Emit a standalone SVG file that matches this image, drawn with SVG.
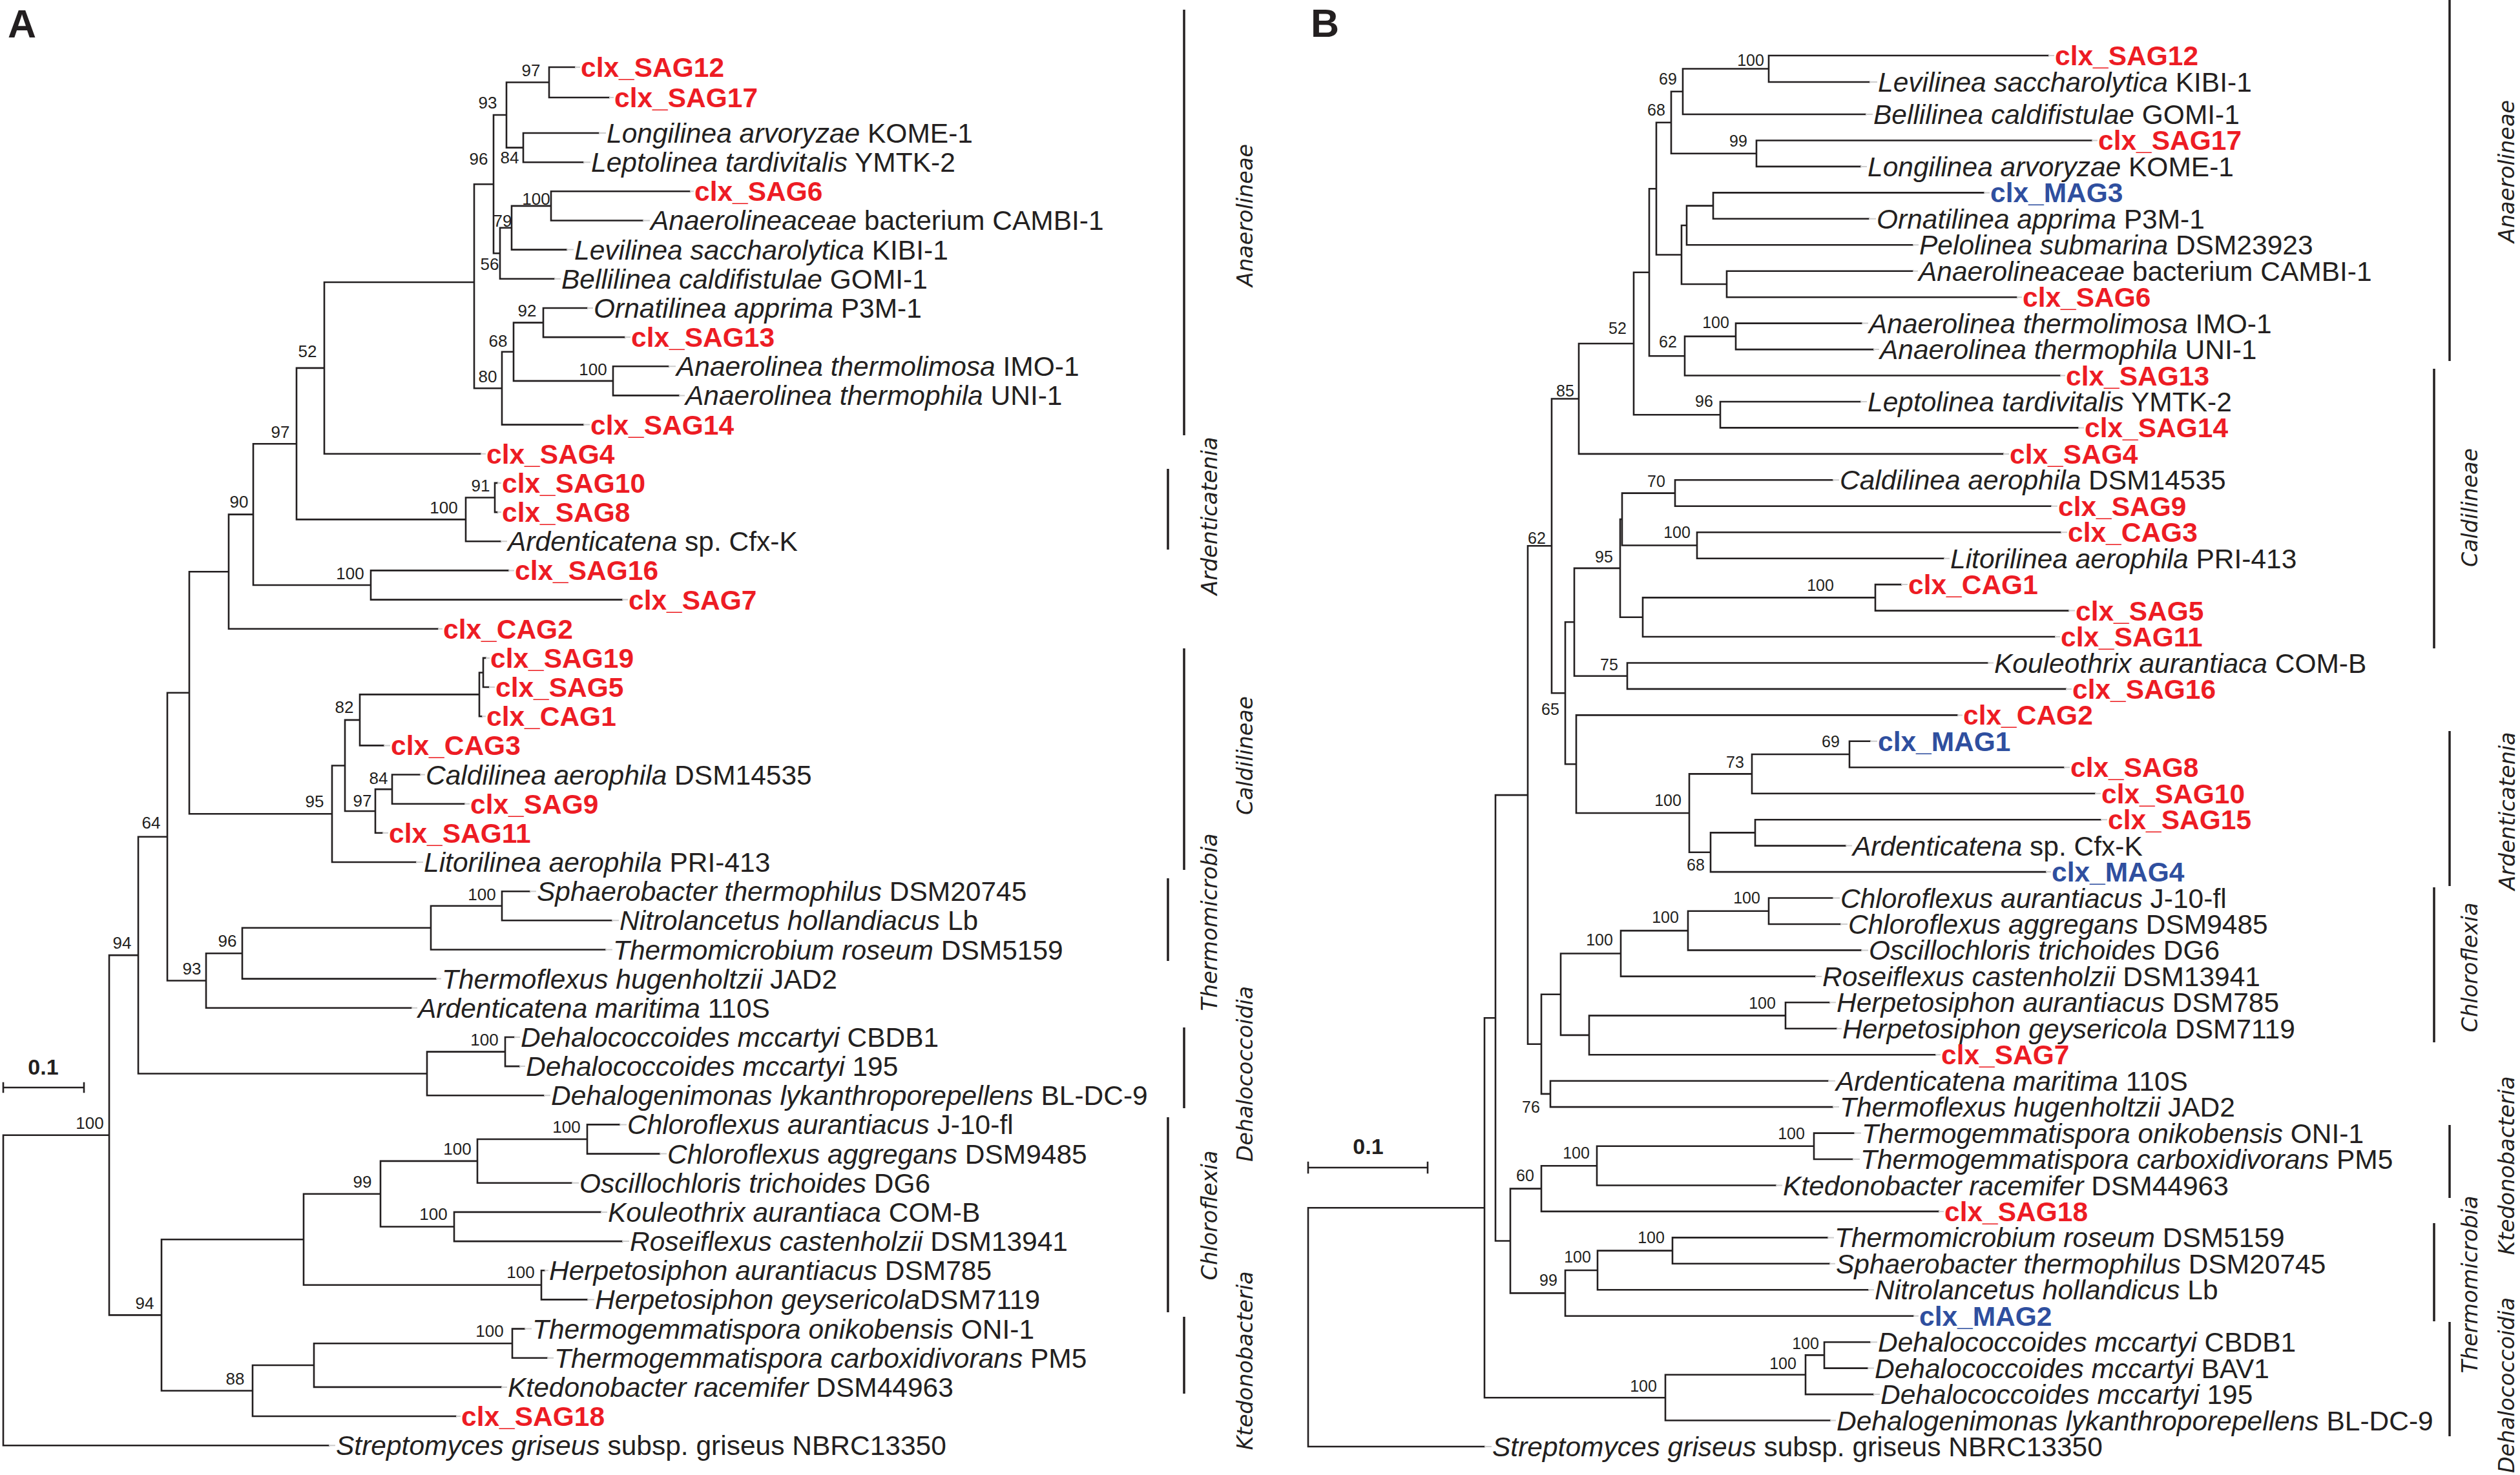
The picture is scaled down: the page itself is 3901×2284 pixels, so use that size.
<svg xmlns="http://www.w3.org/2000/svg" width="3901" height="2284" viewBox="0 0 3901 2284">
<style>
.br{fill:none;stroke:#231f20;stroke-width:2.6;stroke-linecap:square;stroke-linejoin:miter}
.ld{fill:none;stroke:#cccccc;stroke-width:2}
.bar{stroke:#231f20;stroke-width:3.5}
.t{font-family:"Liberation Sans",Arial,Helvetica,sans-serif;font-size:42.5px;fill:#231f20}
.i{font-style:italic}
.r{fill:#ed1c24;font-weight:bold}
.u{fill:#2f4f9f;font-weight:bold}
.bs{font-family:"Liberation Sans",Arial,sans-serif;font-size:26px;fill:#231f20;text-anchor:middle}
.bsb{font-family:"Liberation Sans",Arial,sans-serif;font-size:25px;fill:#231f20;text-anchor:middle}
.cl{font-family:"DejaVu Sans",Verdana,sans-serif;font-style:italic;font-size:34px;fill:#231f20;text-anchor:middle}
.pl{font-family:"Liberation Sans",Arial,sans-serif;font-weight:bold;font-size:61px;fill:#231f20}
.sc{font-family:"Liberation Sans",Arial,sans-serif;font-weight:bold;font-size:34px;fill:#231f20;text-anchor:middle}
</style>
<rect width="3901" height="2284" fill="#ffffff"/>
<text class="pl" x="12" y="58">A</text>
<text class="pl" x="2029" y="57">B</text>

<g id="connectors">
<path class="br" d="M890 104H850V151H943 M927 206H810V251.2H903 M850 127.5H784V228.6H810 M1068 296.3H853V341.5H995 M853 318.9H792V386.6H877 M792 352.8H774V431.8H858 M784 178H764V392.3H774 M909 477H841V522.1H967 M1035 567.3H949V612.4H1051 M841 499.6H795V589.9H949 M795 544.7H777V657.6H903 M764 285.2H734V601.2H777 M734 437H502V702.8H744 M770 747.9H766V793.1H770 M766 770.5H721V838.2H775 M502 569.9H459V804.4H721 M787 883.4H574V928.6H963 M459 687.2H392V906H574 M392 796.6H354V973.7H678 M752 1018.9H748V1064H757 M748 1041.5H742V1109.2H746 M742 1075.4H557V1154.4H594 M650 1199.5H607V1244.7H719 M607 1222.1H581V1289.8H592 M557 1114.9H534V1256H581 M534 1185.5H514V1335H644 M354 885.2H293V1260.3H514 M820 1380.2H777V1425.3H947 M777 1402.8H667V1470.5H937 M667 1436.7H375V1515.6H675 M375 1476.2H319V1560.8H637 M293 1072.8H259V1518.5H319 M796 1606H782V1651.1H804 M782 1628.6H661V1696.3H842 M259 1295.7H214V1662.5H661 M959 1741.4H909V1786.6H1021 M909 1764H739V1831.8H885 M930 1876.9H703V1922.1H963 M739 1797.9H589V1899.5H703 M843 1967.2H838V2012.4H909 M589 1848.7H470V1989.8H838 M812 2057.6H793V2102.7H847 M793 2080.2H486V2147.9H776 M486 2114H391V2193H706 M470 1919.3H250V2153.5H391 M214 1479.1H169V2036.4H250 M169 1757.8H5V2238.2H509"/>
<path class="ld" d="M890 104H898M943 151H950M927 206H938M903 251.2H914M1068 296.3H1074M995 341.5H1006M877 386.6H888M858 431.8H868M909 477H918M967 522.1H976M1035 567.3H1046M1051 612.4H1060M903 657.6H913M744 702.8H752M770 747.9H776M770 793.1H776M775 838.2H785M787 883.4H796M963 928.6H972M678 973.7H685M752 1018.9H758M757 1064H766M746 1109.2H752M594 1154.4H604M650 1199.5H658M719 1244.7H727M592 1289.8H601M644 1335H655M820 1380.2H830M947 1425.3H958M937 1470.5H948M675 1515.6H683M637 1560.8H646M796 1606H805M804 1651.1H813M842 1696.3H852M959 1741.4H970M1021 1786.6H1032M885 1831.8H896M930 1876.9H940M963 1922.1H974M843 1967.2H849M909 2012.4H920M812 2057.6H823M847 2102.7H857M776 2147.9H785M706 2193H713M509 2238.2H519"/>
<path class="br" d="M3171 86H2738V127H2894 M2738 106.5H2605V177H2888 M3238 217.5H2719V257.9H2880 M2605 141.8H2587V237.7H2719 M3071 298.4H2652V338.8H2893 M2652 318.6H2611V379.3H2961 M2961 419.7H2673V460.2H3122 M2611 349H2603V440H2673 M2587 189.8H2564V394.5H2603 M2882 500.6H2687V541.1H2900 M2687 520.9H2608V581.5H3189 M2564 292.2H2553V551.2H2608 M2880 622H2663V662.4H3217 M2553 421.7H2529V642.2H2663 M2529 532H2444V702.9H3101 M2837 743.3H2593V783.8H3175 M3190 824.2H2627V864.7H3009 M2593 763.6H2511V844.5H2627 M2943 905.1H2903V945.6H3202 M2903 925.4H2543V986H3181 M2511 804H2508V955.7H2543 M3077 1026.5H2519V1066.9H3198 M2508 879.9H2437V1046.7H2519 M2895 1147.8H2863V1188.3H3195 M2863 1168H2712V1228.7H3243 M3252 1269.2H2717V1309.6H2857 M2717 1289.4H2648V1350.1H3167 M2712 1198.4H2615V1319.7H2648 M3030 1107.4H2440V1259H2615 M2437 963.3H2423V1183.2H2440 M2444 617.5H2402V1073.2H2423 M2837 1390.5H2738V1431H2849 M2738 1410.8H2613V1471.4H2881 M2613 1441.1H2509V1511.9H2810 M2832 1552.3H2764V1592.8H2843 M2764 1572.6H2460V1633.2H2996 M2509 1476.5H2416V1602.9H2460 M2830 1673.7H2400V1714.1H2837 M2416 1539.7H2386V1693.9H2400 M2402 845.3H2365V1616.8H2386 M2870 1754.6H2808V1795H2868 M2808 1774.8H2472V1835.5H2749 M2472 1805.2H2386V1875.9H3001 M2829 1916.4H2589V1956.8H2832 M2589 1936.6H2473V1997.3H2892 M2473 1967H2423V2037.7H2962 M2386 1840.6H2338V2002.4H2423 M2365 1231.1H2315V1921.5H2338 M2895 2078.2H2824V2118.6H2891 M2824 2098.4H2795V2159.1H2900 M2795 2128.8H2578V2199.5H2833 M2315 1576.3H2298V2164.2H2578 M2298 1870.3H2025V2240H2298"/>
<path class="ld" d="M3171 86H3180M2894 127H2906M2888 177H2899M3238 217.5H3247M2880 257.9H2890M3071 298.4H3080M2893 338.8H2904M2961 379.3H2970M2961 419.7H2969M3122 460.2H3130M2882 500.6H2892M2900 541.1H2909M3189 581.5H3197M2880 622H2890M3217 662.4H3226M3101 702.9H3110M2837 743.3H2847M3175 783.8H3185M3190 824.2H3200M3009 864.7H3018M2943 905.1H2953M3202 945.6H3212M3181 986H3189M3077 1026.5H3086M3198 1066.9H3207M3030 1107.4H3038M2895 1147.8H2906M3195 1188.3H3204M3243 1228.7H3252M3252 1269.2H3262M2857 1309.6H2867M3167 1350.1H3175M2837 1390.5H2848M2849 1431H2860M2881 1471.4H2892M2810 1511.9H2820M2832 1552.3H2842M2843 1592.8H2851M2996 1633.2H3004M2830 1673.7H2841M2837 1714.1H2847M2870 1754.6H2881M2868 1795H2879M2749 1835.5H2759M3001 1875.9H3009M2829 1916.4H2839M2832 1956.8H2841M2892 1997.3H2901M2962 2037.7H2970M2895 2078.2H2906M2891 2118.6H2901M2900 2159.1H2910M2833 2199.5H2842M2298 2240H2309"/>
</g>

<g id="scale-bars">
<path class="br" d="M5 1684H130M5 1677V1691M130 1677V1691"/>
<text class="sc" x="67" y="1664">0.1</text>
<path class="br" d="M2025 1808H2210M2025 1800V1816M2210 1800V1816"/>
<text class="sc" x="2118" y="1787">0.1</text>
</g>

<g id="clade-bars">
<line class="bar" x1="1833" y1="15" x2="1833" y2="674"/>
<line class="bar" x1="1808" y1="726" x2="1808" y2="851"/>
<line class="bar" x1="1833" y1="1004" x2="1833" y2="1347"/>
<line class="bar" x1="1808" y1="1360" x2="1808" y2="1488"/>
<line class="bar" x1="1833" y1="1591" x2="1833" y2="1716"/>
<line class="bar" x1="1808" y1="1730" x2="1808" y2="2032"/>
<line class="bar" x1="1833" y1="2039" x2="1833" y2="2158"/>
<line class="bar" x1="3792" y1="0" x2="3792" y2="559"/>
<line class="bar" x1="3768" y1="571" x2="3768" y2="1004"/>
<line class="bar" x1="3792" y1="1132" x2="3792" y2="1372"/>
<line class="bar" x1="3768" y1="1374" x2="3768" y2="1614"/>
<line class="bar" x1="3792" y1="1742" x2="3792" y2="1855"/>
<line class="bar" x1="3768" y1="1894" x2="3768" y2="2046"/>
<line class="bar" x1="3792" y1="2047" x2="3792" y2="2224"/>
</g>
<g id="clade-labels">
<text class="cl" transform="translate(1939,333.5) rotate(-90)" textLength="221" lengthAdjust="spacingAndGlyphs">Anaerolineae</text>
<text class="cl" transform="translate(1884,799) rotate(-90)" textLength="245" lengthAdjust="spacingAndGlyphs">Ardenticatenia</text>
<text class="cl" transform="translate(1939,1170) rotate(-90)" textLength="184" lengthAdjust="spacingAndGlyphs">Caldilineae</text>
<text class="cl" transform="translate(1884,1428) rotate(-90)" textLength="275" lengthAdjust="spacingAndGlyphs">Thermomicrobia</text>
<text class="cl" transform="translate(1939,1663) rotate(-90)" textLength="272" lengthAdjust="spacingAndGlyphs">Dehalococcoidia</text>
<text class="cl" transform="translate(1884,1882) rotate(-90)" textLength="201" lengthAdjust="spacingAndGlyphs">Chloroflexia</text>
<text class="cl" transform="translate(1939,2107) rotate(-90)" textLength="277" lengthAdjust="spacingAndGlyphs">Ktedonobacteria</text>
<text class="cl" transform="translate(3892,265.5) rotate(-90)" textLength="221" lengthAdjust="spacingAndGlyphs">Anaerolineae</text>
<text class="cl" transform="translate(3835,786) rotate(-90)" textLength="184" lengthAdjust="spacingAndGlyphs">Caldilineae</text>
<text class="cl" transform="translate(3893,1256) rotate(-90)" textLength="245" lengthAdjust="spacingAndGlyphs">Ardenticatenia</text>
<text class="cl" transform="translate(3835,1498) rotate(-90)" textLength="201" lengthAdjust="spacingAndGlyphs">Chloroflexia</text>
<text class="cl" transform="translate(3892,1805) rotate(-90)" textLength="277" lengthAdjust="spacingAndGlyphs">Ktedonobacteria</text>
<text class="cl" transform="translate(3835,1989) rotate(-90)" textLength="275" lengthAdjust="spacingAndGlyphs">Thermomicrobia</text>
<text class="cl" transform="translate(3892,2145) rotate(-90)" textLength="272" lengthAdjust="spacingAndGlyphs">Dehalococcoidia</text>
</g>

<g id="bootstrap-A">
<text class="bs" x="822" y="118">97</text>
<text class="bs" x="755" y="168">93</text>
<text class="bs" x="741" y="255">96</text>
<text class="bs" x="789" y="253">84</text>
<text class="bs" x="830" y="317">100</text>
<text class="bs" x="778" y="351">79</text>
<text class="bs" x="758" y="418">56</text>
<text class="bs" x="816" y="490">92</text>
<text class="bs" x="771" y="537">68</text>
<text class="bs" x="755" y="592">80</text>
<text class="bs" x="918" y="581">100</text>
<text class="bs" x="476" y="553">52</text>
<text class="bs" x="434" y="678">97</text>
<text class="bs" x="744" y="761">91</text>
<text class="bs" x="370" y="786">90</text>
<text class="bs" x="687" y="795">100</text>
<text class="bs" x="542" y="897">100</text>
<text class="bs" x="533" y="1104">82</text>
<text class="bs" x="586" y="1214">84</text>
<text class="bs" x="561" y="1249">97</text>
<text class="bs" x="487" y="1250">95</text>
<text class="bs" x="234" y="1283">64</text>
<text class="bs" x="746" y="1394">100</text>
<text class="bs" x="352" y="1466">96</text>
<text class="bs" x="189" y="1469">94</text>
<text class="bs" x="297" y="1509">93</text>
<text class="bs" x="750" y="1619">100</text>
<text class="bs" x="139" y="1748">100</text>
<text class="bs" x="877" y="1754">100</text>
<text class="bs" x="708" y="1788">100</text>
<text class="bs" x="561" y="1839">99</text>
<text class="bs" x="671" y="1889">100</text>
<text class="bs" x="806" y="1979">100</text>
<text class="bs" x="224" y="2027">94</text>
<text class="bs" x="758" y="2070">100</text>
<text class="bs" x="364" y="2144">88</text>
</g>

<g id="bootstrap-B">
<text class="bsb" x="2710" y="102">100</text>
<text class="bsb" x="2582" y="131">69</text>
<text class="bsb" x="2564" y="179">68</text>
<text class="bsb" x="2691" y="227">99</text>
<text class="bsb" x="2656" y="508">100</text>
<text class="bsb" x="2582" y="538">62</text>
<text class="bsb" x="2504" y="517">52</text>
<text class="bsb" x="2423" y="614">85</text>
<text class="bsb" x="2638" y="630">96</text>
<text class="bsb" x="2564" y="754">70</text>
<text class="bsb" x="2596" y="833">100</text>
<text class="bsb" x="2379" y="842">62</text>
<text class="bsb" x="2483" y="871">95</text>
<text class="bsb" x="2818" y="915">100</text>
<text class="bsb" x="2491" y="1038">75</text>
<text class="bsb" x="2400" y="1107">65</text>
<text class="bsb" x="2834" y="1157">69</text>
<text class="bsb" x="2686" y="1189">73</text>
<text class="bsb" x="2582" y="1248">100</text>
<text class="bsb" x="2625" y="1348">68</text>
<text class="bsb" x="2704" y="1399">100</text>
<text class="bsb" x="2578" y="1429">100</text>
<text class="bsb" x="2476" y="1464">100</text>
<text class="bsb" x="2728" y="1562">100</text>
<text class="bsb" x="2370" y="1723">76</text>
<text class="bsb" x="2773" y="1764">100</text>
<text class="bsb" x="2440" y="1794">100</text>
<text class="bsb" x="2361" y="1829">60</text>
<text class="bsb" x="2556" y="1925">100</text>
<text class="bsb" x="2442" y="1955">100</text>
<text class="bsb" x="2397" y="1991">99</text>
<text class="bsb" x="2795" y="2089">100</text>
<text class="bsb" x="2760" y="2120">100</text>
<text class="bsb" x="2544" y="2155">100</text>
</g>

<g id="A-leaves">
<g id="A01"><text class="t r" x="899" y="119">clx_SAG12</text></g>
<g id="A02"><text class="t r" x="951" y="166">clx_SAG17</text></g>
<g id="A03"><text class="t" x="939" y="221"><tspan class="i">Longilinea arvoryzae</tspan> KOME-1</text></g>
<g id="A04"><text class="t" x="915" y="266"><tspan class="i">Leptolinea tardivitalis</tspan> YMTK-2</text></g>
<g id="A05"><text class="t r" x="1075" y="311">clx_SAG6</text></g>
<g id="A06"><text class="t" x="1007" y="356"><tspan class="i">Anaerolineaceae</tspan> bacterium CAMBI-1</text></g>
<g id="A07"><text class="t" x="889" y="402"><tspan class="i">Levilinea saccharolytica</tspan> KIBI-1</text></g>
<g id="A08"><text class="t" x="869" y="447"><tspan class="i">Bellilinea caldifistulae</tspan> GOMI-1</text></g>
<g id="A09"><text class="t" x="919" y="492"><tspan class="i">Ornatilinea apprima</tspan> P3M-1</text></g>
<g id="A10"><text class="t r" x="977" y="537">clx_SAG13</text></g>
<g id="A11"><text class="t" x="1047" y="582"><tspan class="i">Anaerolinea thermolimosa</tspan> IMO-1</text></g>
<g id="A12"><text class="t" x="1061" y="627"><tspan class="i">Anaerolinea thermophila</tspan> UNI-1</text></g>
<g id="A13"><text class="t r" x="914" y="673">clx_SAG14</text></g>
<g id="A14"><text class="t r" x="753" y="718">clx_SAG4</text></g>
<g id="A15"><text class="t r" x="777" y="763">clx_SAG10</text></g>
<g id="A16"><text class="t r" x="777" y="808">clx_SAG8</text></g>
<g id="A17"><text class="t" x="786" y="853"><tspan class="i">Ardenticatena</tspan> sp. Cfx-K</text></g>
<g id="A18"><text class="t r" x="797" y="898">clx_SAG16</text></g>
<g id="A19"><text class="t r" x="973" y="944">clx_SAG7</text></g>
<g id="A20"><text class="t r" x="686" y="989">clx_CAG2</text></g>
<g id="A21"><text class="t r" x="759" y="1034">clx_SAG19</text></g>
<g id="A22"><text class="t r" x="767" y="1079">clx_SAG5</text></g>
<g id="A23"><text class="t r" x="753" y="1124">clx_CAG1</text></g>
<g id="A24"><text class="t r" x="605" y="1169">clx_CAG3</text></g>
<g id="A25"><text class="t" x="659" y="1215"><tspan class="i">Caldilinea aerophila</tspan> DSM14535</text></g>
<g id="A26"><text class="t r" x="728" y="1260">clx_SAG9</text></g>
<g id="A27"><text class="t r" x="602" y="1305">clx_SAG11</text></g>
<g id="A28"><text class="t" x="656" y="1350"><tspan class="i">Litorilinea aerophila</tspan> PRI-413</text></g>
<g id="A29"><text class="t" x="831" y="1395"><tspan class="i">Sphaerobacter thermophilus</tspan> DSM20745</text></g>
<g id="A30"><text class="t" x="959" y="1440"><tspan class="i">Nitrolancetus hollandiacus</tspan> Lb</text></g>
<g id="A31"><text class="t" x="949" y="1486"><tspan class="i">Thermomicrobium roseum</tspan> DSM5159</text></g>
<g id="A32"><text class="t" x="684" y="1531"><tspan class="i">Thermoflexus hugenholtzii</tspan> JAD2</text></g>
<g id="A33"><text class="t" x="647" y="1576"><tspan class="i">Ardenticatena maritima</tspan> 110S</text></g>
<g id="A34"><text class="t" x="806" y="1621"><tspan class="i">Dehalococcoides mccartyi</tspan> CBDB1</text></g>
<g id="A35"><text class="t" x="814" y="1666"><tspan class="i">Dehalococcoides mccartyi</tspan> 195</text></g>
<g id="A36"><text class="t" x="853" y="1711"><tspan class="i">Dehalogenimonas lykanthroporepellens</tspan> BL-DC-9</text></g>
<g id="A37"><text class="t" x="971" y="1756"><tspan class="i">Chloroflexus aurantiacus</tspan> J-10-fl</text></g>
<g id="A38"><text class="t" x="1033" y="1802"><tspan class="i">Chloroflexus aggregans</tspan> DSM9485</text></g>
<g id="A39"><text class="t" x="897" y="1847"><tspan class="i">Oscillochloris trichoides</tspan> DG6</text></g>
<g id="A40"><text class="t" x="941" y="1892"><tspan class="i">Kouleothrix aurantiaca</tspan> COM-B</text></g>
<g id="A41"><text class="t" x="975" y="1937"><tspan class="i">Roseiflexus castenholzii</tspan> DSM13941</text></g>
<g id="A42"><text class="t" x="850" y="1982"><tspan class="i">Herpetosiphon aurantiacus</tspan> DSM785</text></g>
<g id="A43"><text class="t" x="921" y="2027"><tspan class="i">Herpetosiphon geysericola</tspan>DSM7119</text></g>
<g id="A44"><text class="t" x="824" y="2073"><tspan class="i">Thermogemmatispora onikobensis</tspan> ONI-1</text></g>
<g id="A45"><text class="t" x="858" y="2118"><tspan class="i">Thermogemmatispora carboxidivorans</tspan> PM5</text></g>
<g id="A46"><text class="t" x="786" y="2163"><tspan class="i">Ktedonobacter racemifer</tspan> DSM44963</text></g>
<g id="A47"><text class="t r" x="714" y="2208">clx_SAG18</text></g>
<g id="A48"><text class="t" x="520" y="2253"><tspan class="i">Streptomyces griseus</tspan> subsp. griseus NBRC13350</text></g>
</g>

<g id="B-leaves">
<g id="B01"><text class="t r" x="3181" y="101">clx_SAG12</text></g>
<g id="B02"><text class="t" x="2907" y="142"><tspan class="i">Levilinea saccharolytica</tspan> KIBI-1</text></g>
<g id="B03"><text class="t" x="2900" y="192"><tspan class="i">Bellilinea caldifistulae</tspan> GOMI-1</text></g>
<g id="B04"><text class="t r" x="3248" y="232">clx_SAG17</text></g>
<g id="B05"><text class="t" x="2891" y="273"><tspan class="i">Longilinea arvoryzae</tspan> KOME-1</text></g>
<g id="B06"><text class="t u" x="3081" y="313">clx_MAG3</text></g>
<g id="B07"><text class="t" x="2905" y="354"><tspan class="i">Ornatilinea apprima</tspan> P3M-1</text></g>
<g id="B08"><text class="t" x="2971" y="394"><tspan class="i">Pelolinea submarina</tspan> DSM23923</text></g>
<g id="B09"><text class="t" x="2970" y="435"><tspan class="i">Anaerolineaceae</tspan> bacterium CAMBI-1</text></g>
<g id="B10"><text class="t r" x="3131" y="475">clx_SAG6</text></g>
<g id="B11"><text class="t" x="2893" y="516"><tspan class="i">Anaerolinea thermolimosa</tspan> IMO-1</text></g>
<g id="B12"><text class="t" x="2910" y="556"><tspan class="i">Anaerolinea thermophila</tspan> UNI-1</text></g>
<g id="B13"><text class="t r" x="3198" y="597">clx_SAG13</text></g>
<g id="B14"><text class="t" x="2891" y="637"><tspan class="i">Leptolinea tardivitalis</tspan> YMTK-2</text></g>
<g id="B15"><text class="t r" x="3227" y="677">clx_SAG14</text></g>
<g id="B16"><text class="t r" x="3111" y="718">clx_SAG4</text></g>
<g id="B17"><text class="t" x="2848" y="758"><tspan class="i">Caldilinea aerophila</tspan> DSM14535</text></g>
<g id="B18"><text class="t r" x="3186" y="799">clx_SAG9</text></g>
<g id="B19"><text class="t r" x="3201" y="839">clx_CAG3</text></g>
<g id="B20"><text class="t" x="3019" y="880"><tspan class="i">Litorilinea aerophila</tspan> PRI-413</text></g>
<g id="B21"><text class="t r" x="2954" y="920">clx_CAG1</text></g>
<g id="B22"><text class="t r" x="3213" y="961">clx_SAG5</text></g>
<g id="B23"><text class="t r" x="3190" y="1001">clx_SAG11</text></g>
<g id="B24"><text class="t" x="3087" y="1042"><tspan class="i">Kouleothrix aurantiaca</tspan> COM-B</text></g>
<g id="B25"><text class="t r" x="3208" y="1082">clx_SAG16</text></g>
<g id="B26"><text class="t r" x="3039" y="1122">clx_CAG2</text></g>
<g id="B27"><text class="t u" x="2907" y="1163">clx_MAG1</text></g>
<g id="B28"><text class="t r" x="3205" y="1203">clx_SAG8</text></g>
<g id="B29"><text class="t r" x="3253" y="1244">clx_SAG10</text></g>
<g id="B30"><text class="t r" x="3263" y="1284">clx_SAG15</text></g>
<g id="B31"><text class="t" x="2868" y="1325"><tspan class="i">Ardenticatena</tspan> sp. Cfx-K</text></g>
<g id="B32"><text class="t u" x="3176" y="1365">clx_MAG4</text></g>
<g id="B33"><text class="t" x="2849" y="1406"><tspan class="i">Chloroflexus aurantiacus</tspan> J-10-fl</text></g>
<g id="B34"><text class="t" x="2861" y="1446"><tspan class="i">Chloroflexus aggregans</tspan> DSM9485</text></g>
<g id="B35"><text class="t" x="2893" y="1486"><tspan class="i">Oscillochloris trichoides</tspan> DG6</text></g>
<g id="B36"><text class="t" x="2821" y="1527"><tspan class="i">Roseiflexus castenholzii</tspan> DSM13941</text></g>
<g id="B37"><text class="t" x="2843" y="1567"><tspan class="i">Herpetosiphon aurantiacus</tspan> DSM785</text></g>
<g id="B38"><text class="t" x="2852" y="1608"><tspan class="i">Herpetosiphon geysericola</tspan> DSM7119</text></g>
<g id="B39"><text class="t r" x="3005" y="1648">clx_SAG7</text></g>
<g id="B40"><text class="t" x="2842" y="1689"><tspan class="i">Ardenticatena maritima</tspan> 110S</text></g>
<g id="B41"><text class="t" x="2848" y="1729"><tspan class="i">Thermoflexus hugenholtzii</tspan> JAD2</text></g>
<g id="B42"><text class="t" x="2882" y="1770"><tspan class="i">Thermogemmatispora onikobensis</tspan> ONI-1</text></g>
<g id="B43"><text class="t" x="2880" y="1810"><tspan class="i">Thermogemmatispora carboxidivorans</tspan> PM5</text></g>
<g id="B44"><text class="t" x="2760" y="1851"><tspan class="i">Ktedonobacter racemifer</tspan> DSM44963</text></g>
<g id="B45"><text class="t r" x="3010" y="1891">clx_SAG18</text></g>
<g id="B46"><text class="t" x="2840" y="1931"><tspan class="i">Thermomicrobium roseum</tspan> DSM5159</text></g>
<g id="B47"><text class="t" x="2842" y="1972"><tspan class="i">Sphaerobacter thermophilus</tspan> DSM20745</text></g>
<g id="B48"><text class="t" x="2902" y="2012"><tspan class="i">Nitrolancetus hollandicus</tspan> Lb</text></g>
<g id="B49"><text class="t u" x="2971" y="2053">clx_MAG2</text></g>
<g id="B50"><text class="t" x="2907" y="2093"><tspan class="i">Dehalococcoides mccartyi</tspan> CBDB1</text></g>
<g id="B51"><text class="t" x="2902" y="2134"><tspan class="i">Dehalococcoides mccartyi</tspan> BAV1</text></g>
<g id="B52"><text class="t" x="2911" y="2174"><tspan class="i">Dehalococcoides mccartyi</tspan> 195</text></g>
<g id="B53"><text class="t" x="2843" y="2215"><tspan class="i">Dehalogenimonas lykanthroporepellens</tspan> BL-DC-9</text></g>
<g id="B54"><text class="t" x="2310" y="2255"><tspan class="i">Streptomyces griseus</tspan> subsp. griseus NBRC13350</text></g>
</g>
</svg>
